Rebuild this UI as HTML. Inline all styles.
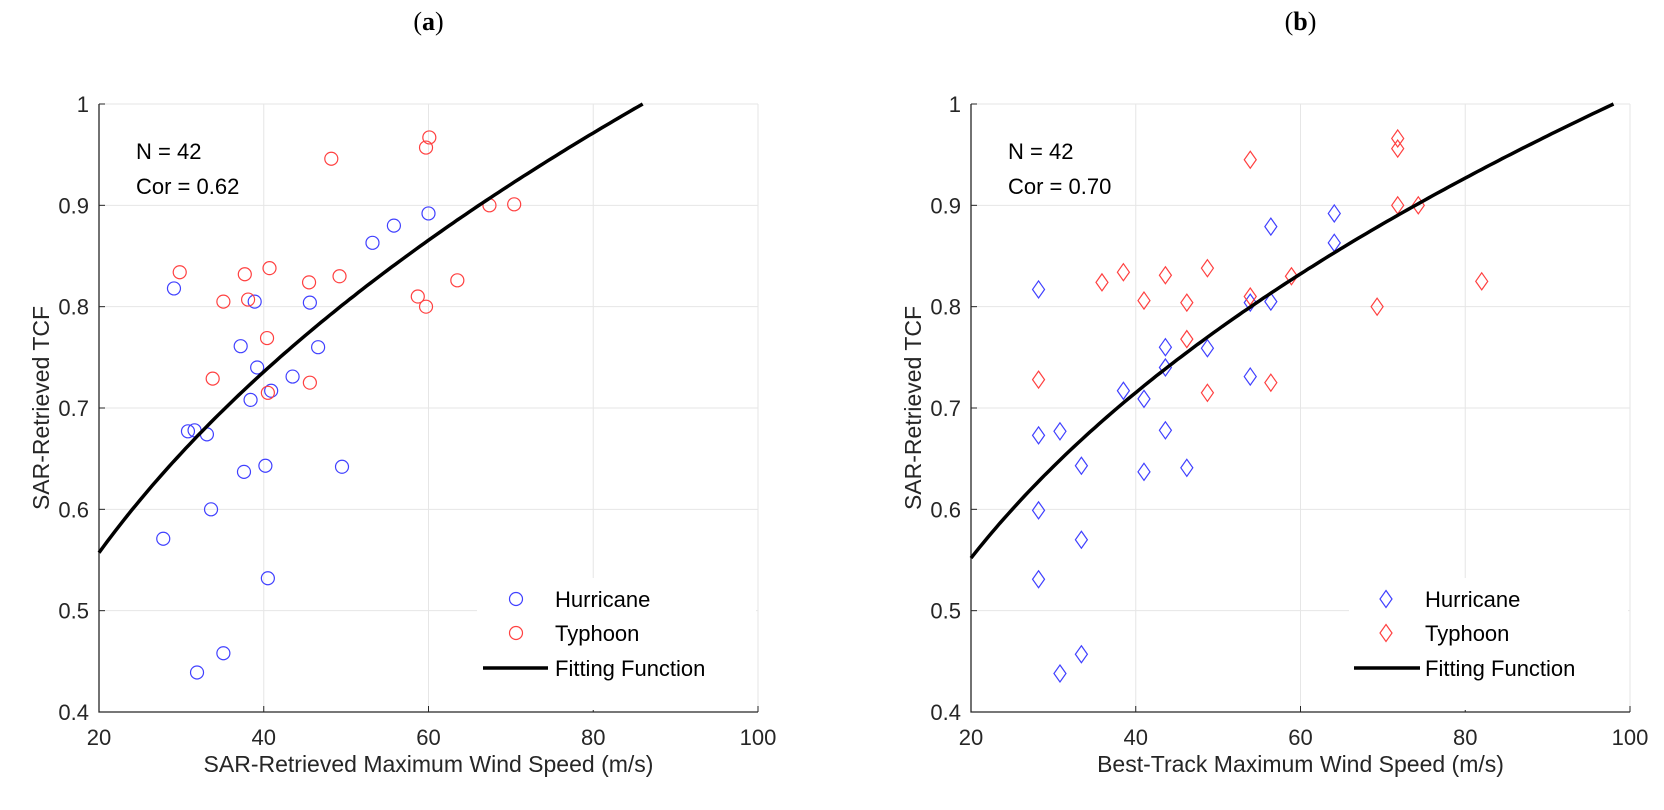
<!DOCTYPE html>
<html><head><meta charset="utf-8"><style>
body{margin:0;background:#fff;}
svg{display:block;font-family:"Liberation Sans",Arial,sans-serif;}
</style></head><body>
<svg id="fig" width="1664" height="810" viewBox="0 0 1664 810"></svg>
<script>
const aHurX=[29.1,38.9,45.6,37.2,46.6,39.2,43.5,40.9,38.4,30.8,31.6,33.1,37.6,40.2,49.5,33.6,27.8,40.5,35.1,31.9,53.2,55.8,60.0];
const aHurY=[0.818,0.805,0.804,0.761,0.760,0.740,0.731,0.717,0.708,0.677,0.678,0.674,0.637,0.643,0.642,0.600,0.571,0.532,0.458,0.439,0.863,0.880,0.892];
const aTyX=[60.1,59.7,48.2,67.4,70.4,29.8,37.7,40.7,45.5,49.2,35.1,38.1,63.5,58.7,59.7,40.4,33.8,45.6,40.5];
const aTyY=[0.967,0.957,0.946,0.900,0.901,0.834,0.832,0.838,0.824,0.830,0.805,0.807,0.826,0.810,0.800,0.769,0.729,0.725,0.715];
const bHurX=[28.2,28.2,30.8,33.4,28.2,33.4,28.2,33.4,30.8,38.5,41.0,41.0,43.6,43.6,43.6,46.2,48.7,53.9,53.9,56.4,56.4,64.1,64.1];
const bHurY=[0.817,0.673,0.677,0.643,0.599,0.570,0.531,0.457,0.438,0.717,0.709,0.637,0.760,0.740,0.678,0.641,0.759,0.731,0.804,0.805,0.879,0.892,0.863];
const bTyX=[28.2,35.9,38.5,41.0,43.6,46.2,46.2,48.7,48.7,53.9,53.9,56.4,58.9,69.3,71.8,71.8,71.8,74.3,82.0];
const bTyY=[0.728,0.824,0.834,0.806,0.831,0.804,0.768,0.838,0.715,0.945,0.810,0.725,0.830,0.800,0.966,0.956,0.900,0.900,0.825];
const xTicks=[20,40,60,80,100];
const yTicks=[0.4,0.5,0.6,0.7,0.8,0.9,1];
const yTickLabels=["0.4","0.5","0.6","0.7","0.8","0.9","1"];
const fitA=[86,0.401]; // y=(x/x0)^p
const fitB=[98,0.374];
const NS="http://www.w3.org/2000/svg";
const svg=document.getElementById('fig');
function mk(tag,attrs,parent){const e=document.createElementNS(NS,tag);for(const k in attrs)e.setAttribute(k,attrs[k]);(parent||svg).appendChild(e);return e;}
function panel(o){
  const L=o.left,R=o.left+659,T=104,B=712;
  const sx=v=>L+(v-20)/80*(R-L), sy=v=>B-(v-0.4)/0.6*(B-T);
  const g=mk('g',{});
  
  
  const t=mk('text',{x:(L+R)/2,y:30,'text-anchor':'middle','font-family':'Liberation Serif,serif','font-size':26,fill:'#000'},g);
  t.innerHTML='(<tspan font-weight="bold">'+o.id+'</tspan>)';
  
  const grid=mk('g',{stroke:'#e6e6e6','stroke-width':1},g);
  
  xTicks.forEach(v=>{mk('line',{x1:sx(v),x2:sx(v),y1:T,y2:B},grid);});
  yTicks.forEach(v=>{mk('line',{x1:L,x2:R,y1:sy(v),y2:sy(v)},grid);});
  // axes
  const ax=mk('path',{d:`M${L},${T}V${B}H${R}`,stroke:'#262626','stroke-width':1.3,fill:'none'},g);
  
  xTicks.forEach(v=>{mk('line',{x1:sx(v),x2:sx(v),y1:B,y2:B-6,stroke:'#262626'},g);
    const tl=mk('text',{x:sx(v),y:B+33,'text-anchor':'middle','font-size':22,fill:'#262626'},g);tl.textContent=v;
    });
  yTicks.forEach((v,i)=>{mk('line',{x1:L,x2:L+6,y1:sy(v),y2:sy(v),stroke:'#262626'},g);
    const tl=mk('text',{x:L-10,y:sy(v)+8,'text-anchor':'end','font-size':22,fill:'#262626'},g);tl.textContent=yTickLabels[i];
    });
  const xl=mk('text',{x:(L+R)/2,y:772,'text-anchor':'middle','font-size':23,fill:'#262626'},g);xl.textContent=o.xlabel;
  
  const yl=mk('text',{x:0,y:0,transform:`translate(${L-50},${(T+B)/2}) rotate(-90)`,'text-anchor':'middle','font-size':23,fill:'#262626'},g);yl.textContent='SAR-Retrieved TCF';
  
  const a1=mk('text',{x:L+37,y:159,'font-size':22,fill:'#000'},g);a1.textContent='N = 42';
  
  const a2=mk('text',{x:L+37,y:194,'font-size':22,fill:'#000'},g);a2.textContent=o.cor;
  
  function marker(x,y,col,parent){
    if(o.shape==='circle') return mk('circle',{cx:x,cy:y,r:6.5,fill:'none',stroke:col,'stroke-width':1.2},parent);
    return mk('path',{d:`M${x},${y-8.5}L${x+6},${y}L${x},${y+8.5}L${x-6},${y}Z`,fill:'none',stroke:col,'stroke-width':1.2},parent);
  }
  // legend background
  const lb=mk('rect',{x:L+378,y:578,width:R-L-380,height:132,fill:'#fff'},g);
  
  const hs=mk('g',{},g);
  o.hx.forEach((v,i)=>{const m=marker(sx(v),sy(o.hy[i]),'#4040ff',hs);});
  const ts=mk('g',{},g);
  o.tx.forEach((v,i)=>{const m=marker(sx(v),sy(o.ty[i]),'#ff4040',ts);});
  let d='';for(let x=20;x<=o.fit[0]+0.001;x+=0.5){const y=Math.pow(x/o.fit[0],o.fit[1]);d+=(d?'L':'M')+sx(x).toFixed(1)+','+sy(y).toFixed(1);}
  const fl=mk('path',{d:d,stroke:'#000','stroke-width':3.5,fill:'none'},g);
  
  // legend entries
  const ly=[599,633,668],names=['Hurricane','Typhoon','Fitting Function'];
  const mx=o.legMarker,tx=o.legText;
  const m1=marker(mx,ly[0],'#4040ff',g);
  const m2=marker(mx,ly[1],'#ff4040',g);
  const m3=mk('line',{x1:o.legLine[0],x2:o.legLine[1],y1:ly[2],y2:ly[2],stroke:'#000','stroke-width':3.5},g);
  
  names.forEach((n,i)=>{const e=mk('text',{x:tx,y:ly[i]+8,'font-size':22,fill:'#000'},g);e.textContent=n;
    });
}
panel({id:'a',left:99,xlabel:'SAR-Retrieved Maximum Wind Speed (m/s)',cor:'Cor = 0.62',shape:'circle',hx:aHurX,hy:aHurY,tx:aTyX,ty:aTyY,fit:fitA,legMarker:516,legText:555,legLine:[483,548]});
panel({id:'b',left:971,xlabel:'Best-Track Maximum Wind Speed (m/s)',cor:'Cor = 0.70',shape:'diamond',hx:bHurX,hy:bHurY,tx:bTyX,ty:bTyY,fit:fitB,legMarker:1386,legText:1425,legLine:[1354,1420]});
</script>
</body></html>
